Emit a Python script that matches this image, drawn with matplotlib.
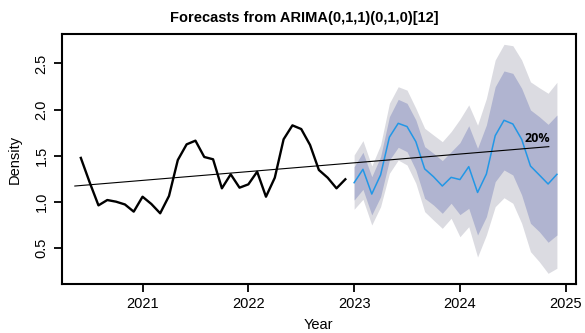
import numpy as np
import matplotlib
matplotlib.use('Agg')
import matplotlib.pyplot as plt

plt.rcParams['font.family'] = ['Liberation Sans', 'DejaVu Sans']

# observed monthly series, Jun 2020 - Dec 2022
hist = [1.475, 1.21, 0.96, 1.018, 1.0, 0.97, 0.892, 1.054, 0.975, 0.874, 1.062,
        1.452, 1.622, 1.662, 1.485, 1.46, 1.145, 1.297, 1.152, 1.188, 1.325,
        1.054, 1.26, 1.677, 1.828, 1.788, 1.615, 1.344, 1.26, 1.145, 1.243]

# forecast, Jan 2023 - Dec 2024
fc_mean = [1.206, 1.351, 1.083, 1.29, 1.70, 1.85, 1.815, 1.651, 1.356, 1.271, 1.17, 1.264,
           1.24, 1.38, 1.10, 1.30, 1.716, 1.883, 1.843, 1.677, 1.387, 1.29, 1.192, 1.297]
hi80 = [1.38, 1.536, 1.271, 1.488, 1.922, 2.11, 2.067, 1.886, 1.597, 1.525, 1.445, 1.542,
        1.64, 1.824, 1.579, 1.832, 2.247, 2.418, 2.392, 2.23, 1.995, 1.922, 1.839, 1.94]
lo80 = [1.018, 1.134, 0.856, 1.054, 1.452, 1.59, 1.542, 1.344, 1.037, 0.964, 0.874, 0.983,
        0.86, 0.928, 0.639, 0.837, 1.217, 1.344, 1.29, 1.073, 0.766, 0.675, 0.56, 0.639]
hi95 = [1.507, 1.662, 1.387, 1.615, 2.067, 2.247, 2.21, 2.013, 1.796, 1.723, 1.651, 1.76,
        1.895, 2.05, 1.83, 2.12, 2.537, 2.707, 2.692, 2.537, 2.30, 2.236, 2.176, 2.295]
lo95 = [0.918, 1.026, 0.747, 0.946, 1.308, 1.452, 1.398, 1.20, 0.892, 0.80, 0.711, 0.82,
        0.62, 0.729, 0.40, 0.639, 0.946, 1.043, 0.983, 0.766, 0.458, 0.349, 0.223, 0.278]

# linear trend drawn over the chart
trend_x = [2020.36, 2024.84]
trend_y = [1.17, 1.597]
trend_label = '20%'

hist_start = 2020 + 5 / 12
fc_start = 2023.0
t_hist = hist_start + np.arange(len(hist)) / 12
t_fc = fc_start + np.arange(len(fc_mean)) / 12

fig = plt.figure(figsize=(5.85, 3.33), dpi=100)
ax = fig.add_axes([0.1055, 0.1471, 0.8791, 0.7508])

ax.fill_between(t_fc, lo95, hi95, color='#dbdbe1', linewidth=0)
ax.fill_between(t_fc, lo80, hi80, color='#b0b4d0', linewidth=0)
ax.plot(t_fc, fc_mean, color='#2297e6', linewidth=1.1)
ax.plot(t_hist, hist, color='black', linewidth=1.7)
ax.plot(trend_x, trend_y, color='black', linewidth=0.8)
ax.text(2024.73, 1.69, trend_label, fontsize=9, fontweight='bold',
        family=['Open Sans', 'DejaVu Sans'], ha='center', va='center')

ax.set_xlim(2020.236, 2025.097)
ax.set_ylim(0.107, 2.819)
ax.set_xticks([2021, 2022, 2023, 2024, 2025])
ax.set_yticks([0.5, 1.0, 1.5, 2.0, 2.5])
ax.set_yticklabels(['0.5', '1.0', '1.5', '2.0', '2.5'], rotation=90, va='center')
ax.tick_params(direction='out', length=5.5, width=1.3, labelsize=10.5, pad=4)
for s in ax.spines.values():
    s.set_linewidth(1.5)

ax.set_xlabel('Year', fontsize=10.5, labelpad=5)
ax.set_ylabel('Density', fontsize=10.5, labelpad=9)
fig.text(304.5 / 585, 1 - 18 / 333, 'Forecasts from ARIMA(0,1,1)(0,1,0)[12]',
         fontsize=10.5, fontweight='bold', ha='center', va='center')

fig.savefig('out.png', dpi=100)
